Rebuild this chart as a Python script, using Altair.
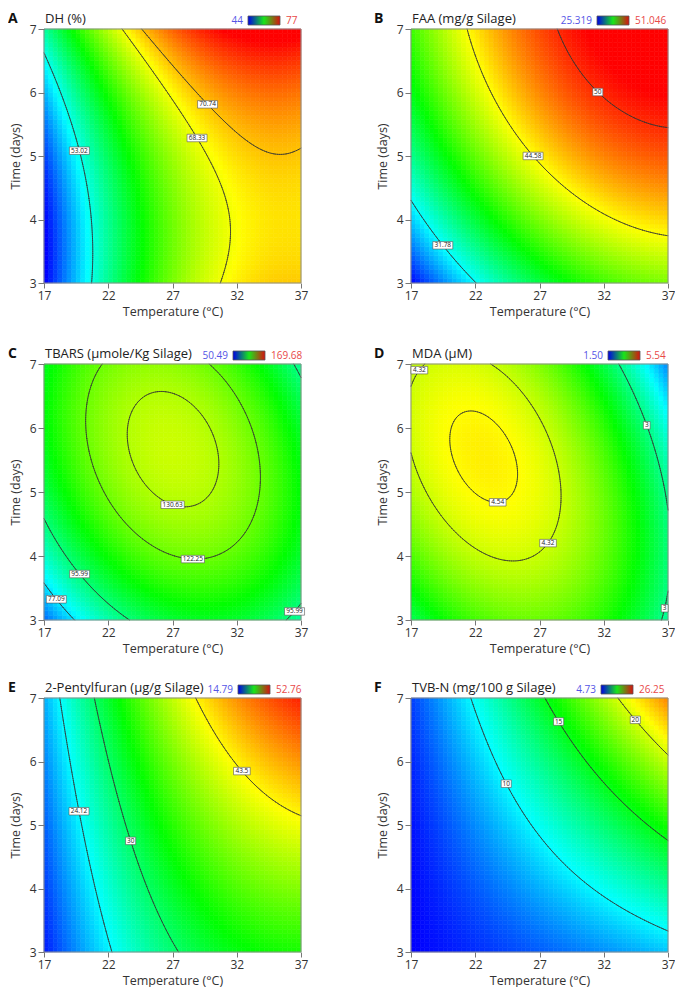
import numpy as np
import pandas as pd
import altair as alt

FONT = "Open Sans"
X_TICKS = [17, 22, 27, 32, 37]
Y_TICKS = [3, 4, 5, 6, 7]

# ---------------- values ----------------
# Each panel: title, colour-scale limits, contour levels, points read on the
# contour lines / corners (T in degC, t in days, response z), label anchors.

# A - DH (%)
A_title = "DH (%)"
A_scale = [44, 77]
A_scale_txt = ["44", "77"]
A_levels = [53.02, 68.33, 70.74]
A_read_T = [17, 18.6, 19.75, 20.5, 20.5, 23.2, 27.3, 29.1, 31.5, 30.8, 24.7, 30.0, 35.2, 37, 17, 17, 37, 37]
A_read_t = [6.65, 5.77, 5.1, 4.0, 3.0, 7, 5.77, 5.3, 3.84, 3.0, 7, 5.77, 5.08, 5.2, 3, 7, 7, 3]
A_read_z = [53.02, 53.02, 53.02, 53.02, 53.02, 68.33, 68.33, 68.33, 68.33, 68.33,
            70.74, 70.74, 70.74, 70.74, 43, 55.5, 78, 70.5]
A_lab_txt = ["53.02", "68.33", "70.74"]
A_lab_T = [19.75, 29.06, 29.8]
A_lab_t = [5.1, 5.3, 5.84]

# B - FAA
B_title = "FAA (mg/g Silage)"
B_scale = [25.319, 51.046]
B_scale_txt = ["25.319", "51.046"]
B_levels = [31.78, 44.58, 50]
B_read_T = [28.4, 28.7, 30.9, 36.2, 37, 21.8, 22.0, 26.1, 30.3, 36.2, 37, 17, 19.7, 22.9, 17, 17, 37, 37]
B_read_t = [7, 6.53, 5.86, 5.38, 5.38, 7, 6.53, 4.94, 4.32, 3.98, 3.98, 4.28, 3.63, 3.0, 3, 7, 3, 7]
B_read_z = [50, 50, 50, 50, 50, 44.58, 44.58, 44.58, 44.58, 44.58, 44.58,
            31.78, 31.78, 31.78, 26, 39.5, 42.5, 52]
B_lab_txt = ["50", "44.58", "31.78"]
B_lab_T = [30.9, 26.1, 19.7]
B_lab_t = [5.86, 4.94, 3.63]

# C - TBARS
C_title = "TBARS (\u00b5mole/Kg Silage)"
C_scale = [50.49, 169.68]
C_scale_txt = ["50.49", "169.68"]
C_levels = [77.09, 95.99, 122.25, 130.63]
C_read_T = [25.94, 23.13, 30.79, 28.1, 27.0, 20.07, 33.86, 28.55,
            17, 19.9, 23.7, 35.6, 36.3, 37, 36.3, 37, 17, 18.2, 19.5, 17, 37, 37, 17, 27]
C_read_t = [6.6, 5.88, 5.45, 4.68, 4.77, 6.09, 5.27, 3.98,
            4.57, 3.75, 3.0, 3.0, 3.17, 3.26, 7, 6.7, 3.6, 3.36, 3.0, 3, 7, 3, 7, 5.65]
C_read_z = [130.63, 130.63, 130.63, 130.63, 130.63, 122.25, 122.25, 122.25,
            95.99, 95.99, 95.99, 95.99, 95.99, 95.99, 95.99, 95.99,
            77.09, 77.09, 77.09, 66, 94, 94, 106, 134]
C_lab_txt = ["130.63", "122.25", "95.99", "77.09", "95.99"]
C_lab_T = [27.0, 28.55, 19.9, 18.2, 36.3]
C_lab_t = [4.77, 3.98, 3.75, 3.36, 3.17]

# D - MDA
D_title = "MDA (\u00b5M)"
D_scale = [1.50, 5.54]
D_scale_txt = ["1.50", "5.54"]
D_levels = [3, 4.32, 4.54]
D_read_T = [21.96, 20.2, 25.6, 24.1, 23.7, 17.8, 17, 17.6, 23.3, 28.9, 25.2, 27.4,
            33.2, 35.4, 37, 36.7, 36.5, 37, 37, 17, 22.9]
D_read_t = [6.30, 5.84, 5.33, 4.87, 4.93, 7, 5.96, 6.9, 7, 5.02, 4.0, 4.23,
            7, 6.05, 4.84, 3.2, 3.0, 3.43, 7, 3, 5.58]
D_read_z = [4.54, 4.54, 4.54, 4.54, 4.54, 4.32, 4.32, 4.32, 4.32, 4.32, 4.32, 4.32,
            3, 3, 3, 3, 3, 3, 2.0, 3.2, 4.6]
D_lab_txt = ["4.32", "4.54", "4.32", "3", "3"]
D_lab_T = [17.6, 23.7, 27.4, 35.4, 36.7]
D_lab_t = [6.9, 4.93, 4.23, 6.05, 3.2]

# E - 2-Pentylfuran
E_title = "2-Pentylfuran (\u00b5g/g Silage)"
E_scale = [14.79, 52.76]
E_scale_txt = ["14.79", "52.76"]
E_levels = [24.12, 30, 43.5]
E_read_T = [18.36, 19.3, 22.9, 22.0, 23.5, 26.1, 28.4, 32.6, 37, 17, 17, 37, 37]
E_read_t = [7, 5.21, 3.0, 7, 4.72, 3.0, 7, 5.87, 5.4, 3, 7, 7, 3]
E_read_z = [24.12, 24.12, 24.12, 30, 30, 30, 43.5, 43.5, 43.5, 15, 22.4, 52.5, 34.5]
E_lab_txt = ["24.12", "30", "43.5"]
E_lab_T = [19.3, 23.5, 32.6]
E_lab_t = [5.21, 4.72, 5.87]

# F - TVB-N
F_title = "TVB-N (mg/100 g Silage)"
F_scale = [4.73, 26.25]
F_scale_txt = ["4.73", "26.25"]
F_levels = [10, 15, 20]
F_read_T = [22.0, 24.35, 31.1, 37, 26.9, 28.2, 32.6, 37, 33.6, 35.0, 37, 17, 17, 37, 37]
F_read_t = [7, 5.65, 4.24, 3.55, 7, 6.6, 5.31, 4.55, 7, 6.75, 6.31, 3, 7, 7, 3]
F_read_z = [10, 10, 10, 10, 15, 15, 15, 15, 20, 20, 20, 4.7, 6.0, 24.5, 9.3]
F_lab_txt = ["10", "15", "20"]
F_lab_T = [24.35, 28.2, 35.0]
F_lab_t = [5.65, 6.6, 6.75]

# ---------------- layout (pixels) ----------------
PW = 257
ROW_H = [254, 256, 254]
HSP = 66
VSP_1, VSP_2 = 28, 25
LETTER_X = [-36, -37]
TITLE_Y = -10.5
BAR_Y = (-13, -4)
BAR_W = 32
BAR_RIGHT_GAP = {"A": 21, "B": 39, "C": 36, "D": 28, "E": 31, "F": 35}

# ---------------- helpers ----------------
def quad_fit(T, t, z):
    T = np.asarray(T, float); t = np.asarray(t, float); z = np.asarray(z, float)
    x1 = (T - 27) / 10; x2 = (t - 5) / 2
    M = np.column_stack([np.ones_like(x1), x1, x2, x1 * x2, x1 ** 2, x2 ** 2])
    return np.linalg.lstsq(M, z, rcond=None)[0]


def quad_eval(c, T, t):
    x1 = (T - 27) / 10; x2 = (t - 5) / 2
    return c[0] + c[1] * x1 + c[2] * x2 + c[3] * x1 * x2 + c[4] * x1 ** 2 + c[5] * x2 ** 2


STOP = [0, 0.25, 0.5, 0.75, 1]
RR = [0, 0, 0, 255, 255]
GG = [0, 255, 255, 255, 0]
BB = [255, 255, 0, 0, 0]


def to_hex(z, lo, hi):
    s = np.clip((np.asarray(z) - lo) / (hi - lo), 0, 1)
    r = np.interp(s, STOP, RR); g = np.interp(s, STOP, GG); b = np.interp(s, STOP, BB)
    return ["#%02x%02x%02x" % (int(round(a)), int(round(bb)), int(round(cc))) for a, bb, cc in zip(r, g, b)]


def heat_frame(c, lo, hi, n=56):
    e_T = np.linspace(17, 37, n + 1); e_t = np.linspace(3, 7, n + 1)
    cT = (e_T[:-1] + e_T[1:]) / 2; ct = (e_t[:-1] + e_t[1:]) / 2
    GT, Gt = np.meshgrid(cT, ct)
    z = quad_eval(c, GT.ravel(), Gt.ravel())
    iT = np.tile(np.arange(n), n); it = np.repeat(np.arange(n), n)
    return pd.DataFrame({"T0": np.round(e_T[iT], 4), "T1": np.round(e_T[iT + 1], 4),
                         "t0": np.round(e_t[it], 4), "t1": np.round(e_t[it + 1], 4),
                         "col": to_hex(z, lo, hi)})


def contour_segs(c, level, n=120):
    gT = np.linspace(17, 37, n + 1); gt = np.linspace(3, 7, n + 1)
    GT, Gt = np.meshgrid(gT, gt)
    Z = quad_eval(c, GT, Gt) - level
    S = Z > 0
    cnt = S[:-1, :-1].astype(int) + S[:-1, 1:] + S[1:, 1:] + S[1:, :-1]
    ii, jj = np.nonzero((cnt > 0) & (cnt < 4))
    segs = []
    for i, j in zip(ii, jj):
        cr = [(gT[j], gt[i], Z[i, j]), (gT[j + 1], gt[i], Z[i, j + 1]),
              (gT[j + 1], gt[i + 1], Z[i + 1, j + 1]), (gT[j], gt[i + 1], Z[i + 1, j])]
        pts = []
        for k in range(4):
            xa, ya, za = cr[k]; xb, yb, zb = cr[(k + 1) % 4]
            if (za > 0) != (zb > 0):
                f = za / (za - zb)
                pts.append((xa + f * (xb - xa), ya + f * (yb - ya)))
        if len(pts) == 2:
            segs.append((pts[0], pts[1]))
        elif len(pts) == 4:
            segs.append((pts[0], pts[1])); segs.append((pts[2], pts[3]))
    return segs


def build_panel(letter, title, scale, scale_txt, levels, rT, rt, rz, lab_txt, lab_T, lab_t, col, ph):
    coef = quad_fit(rT, rt, rz)
    lo, hi = scale
    hdf = heat_frame(coef, lo, hi)
    seg_by_level = {}
    rows = []
    for lv in levels:
        s = contour_segs(coef, lv)
        seg_by_level[lv] = s
        for (a, b) in s:
            rows.append({"xa": round(a[0], 4), "ya": round(a[1], 4), "xb": round(b[0], 4), "yb": round(b[1], 4)})
    cdf = pd.DataFrame(rows)

    lrows = []
    for txt, T0, t0 in zip(lab_txt, lab_T, lab_t):
        lv = float(txt)
        s = seg_by_level.get(lv, [])
        Tl, tl = T0, t0
        if s:
            mids = np.array([((a[0] + b[0]) / 2, (a[1] + b[1]) / 2) for a, b in s])
            d = ((mids[:, 0] - T0) / 20 * PW) ** 2 + ((mids[:, 1] - t0) / 4 * ph) ** 2
            k = int(np.argmin(d)); Tl, tl = mids[k]
        w = 3.3 * len(txt) + 3.5; h = 7.5
        dT = w / 2 / PW * 20; dt = h / 2 / ph * 4
        lrows.append({"txt": txt, "lx": Tl, "ly": tl, "bx0": Tl - dT, "bx1": Tl + dT,
                      "by0": tl - dt, "by1": tl + dt})
    ldf = pd.DataFrame(lrows)

    xs = alt.Scale(domain=[17, 37], nice=False, zero=False)
    ys = alt.Scale(domain=[3, 7], nice=False, zero=False)
    xax = alt.Axis(values=X_TICKS, title="Temperature (\u00b0C)", format="d", tickSize=5, labelPadding=2,
                   titlePadding=4, labelFlush=False, grid=False, domain=False, tickColor="#777",
                   labelColor="#333", titleColor="#333", labelFont=FONT, titleFont=FONT,
                   labelFontSize=12, titleFontSize=12.5, titleFontWeight="normal", zindex=1)
    yax = alt.Axis(values=Y_TICKS, title="Time (days)", format="d", tickSize=6, labelPadding=2,
                   titlePadding=7, labelFlush=False, grid=False, domain=False, tickColor="#777",
                   labelColor="#333", titleColor="#333", labelFont=FONT, titleFont=FONT,
                   labelFontSize=12, titleFontSize=12.5, titleFontWeight="normal", zindex=1)

    def X(f):
        return alt.X(f, type="quantitative", scale=xs, axis=xax)

    def Y(f):
        return alt.Y(f, type="quantitative", scale=ys, axis=yax)

    heat = alt.Chart(hdf).mark_rect(strokeWidth=0.6).encode(
        x=X("T0"), x2="T1", y=Y("t0"), y2="t1",
        color=alt.Color("col:N", scale=None), stroke=alt.Stroke("col:N", scale=None))
    lines = alt.Chart(cdf).mark_rule(color="#333333", strokeWidth=0.8, strokeCap="round").encode(
        x=X("xa"), x2="xb", y=Y("ya"), y2="yb")
    boxes = alt.Chart(ldf).mark_rect(fill="white", stroke="#555555", strokeWidth=0.6).encode(
        x=X("bx0"), x2="bx1", y=Y("by0"), y2="by1")
    texts = alt.Chart(ldf).mark_text(fontSize=6.5, font=FONT, color="#222222", baseline="middle",
                                     align="center").encode(x=X("lx"), y=Y("ly"), text="txt:N")

    one = pd.DataFrame({"k": [0]})
    border = alt.Chart(one).mark_rect(fillOpacity=0, stroke="#8c8c8c", strokeWidth=1).encode(
        x=alt.value(0), x2=alt.value(PW), y=alt.value(0), y2=alt.value(ph))
    ttl = alt.Chart(one).mark_text(text=title, align="left", baseline="middle", font=FONT, fontSize=13,
                                   color="#222222").encode(x=alt.value(1), y=alt.value(TITLE_Y))
    let = alt.Chart(one).mark_text(text=letter, align="left", baseline="middle", font=FONT, fontSize=14,
                                   fontWeight="bold", color="#111111").encode(
        x=alt.value(LETTER_X[col]), y=alt.value(TITLE_Y))
    bx1 = PW - BAR_RIGHT_GAP[letter]; bx0 = bx1 - BAR_W
    grad = alt.LinearGradient(gradient="linear", x1=0, x2=1, y1=0, y2=0,
                              stops=[alt.GradientStop(color="#0000e6", offset=0),
                                     alt.GradientStop(color="#19e619", offset=0.5),
                                     alt.GradientStop(color="#d81010", offset=1)])
    bar = alt.Chart(one).mark_rect(fill=grad, stroke="#555555", strokeWidth=0.8).encode(
        x=alt.value(bx0), x2=alt.value(bx1), y=alt.value(BAR_Y[0]), y2=alt.value(BAR_Y[1]))
    mid_y = (BAR_Y[0] + BAR_Y[1]) / 2
    lo_t = alt.Chart(one).mark_text(text=scale_txt[0], align="right", baseline="middle", font=FONT,
                                    fontSize=10, color="#5555e6").encode(x=alt.value(bx0 - 5), y=alt.value(mid_y))
    hi_t = alt.Chart(one).mark_text(text=scale_txt[1], align="left", baseline="middle", font=FONT,
                                    fontSize=10, color="#e84848").encode(x=alt.value(bx1 + 6), y=alt.value(mid_y))

    return alt.layer(heat, lines, border, boxes, texts, ttl, let, bar, lo_t, hi_t).properties(
        width=PW, height=ph)


panels = [
    ("A", A_title, A_scale, A_scale_txt, A_levels, A_read_T, A_read_t, A_read_z, A_lab_txt, A_lab_T, A_lab_t),
    ("B", B_title, B_scale, B_scale_txt, B_levels, B_read_T, B_read_t, B_read_z, B_lab_txt, B_lab_T, B_lab_t),
    ("C", C_title, C_scale, C_scale_txt, C_levels, C_read_T, C_read_t, C_read_z, C_lab_txt, C_lab_T, C_lab_t),
    ("D", D_title, D_scale, D_scale_txt, D_levels, D_read_T, D_read_t, D_read_z, D_lab_txt, D_lab_T, D_lab_t),
    ("E", E_title, E_scale, E_scale_txt, E_levels, E_read_T, E_read_t, E_read_z, E_lab_txt, E_lab_T, E_lab_t),
    ("F", F_title, F_scale, F_scale_txt, F_levels, F_read_T, F_read_t, F_read_z, F_lab_txt, F_lab_T, F_lab_t),
]

charts = [build_panel(*p, col=i % 2, ph=ROW_H[i // 2]) for i, p in enumerate(panels)]
rows = [alt.hconcat(charts[2 * r], charts[2 * r + 1], spacing=HSP) for r in range(3)]
chart = alt.vconcat(rows[0], alt.vconcat(rows[1], rows[2], spacing=VSP_2), spacing=VSP_1).properties(
    padding={"left": 0, "top": 3, "right": 0, "bottom": 0}
).configure_view(strokeWidth=0)

chart.save("out.html", embed_options={"renderer": "svg", "actions": False})
